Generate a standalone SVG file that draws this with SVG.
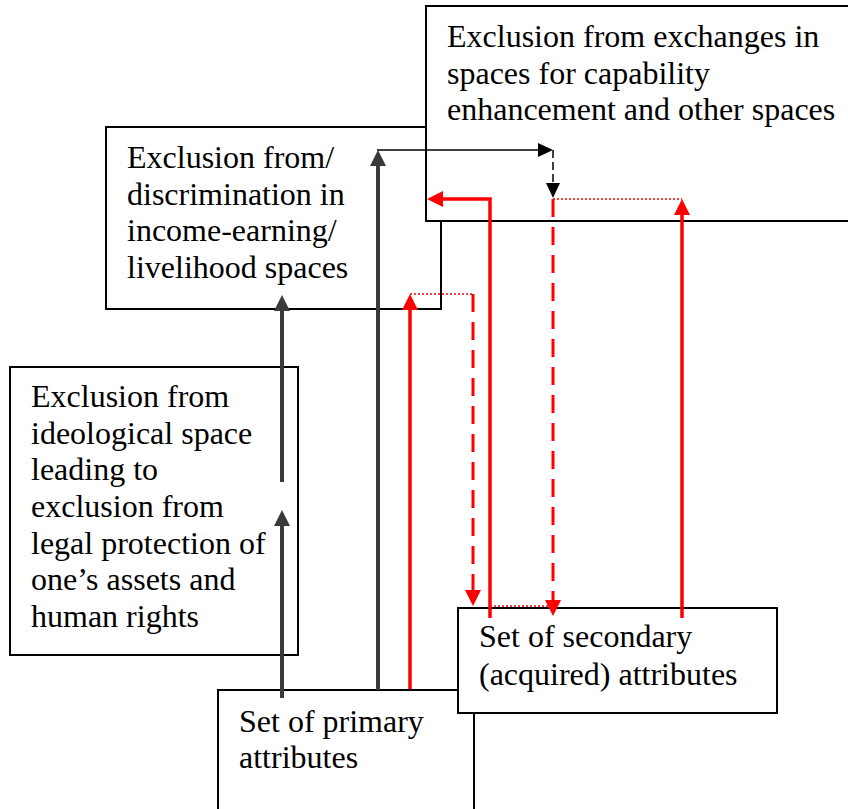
<svg xmlns="http://www.w3.org/2000/svg" width="848" height="809" viewBox="0 0 848 809">
<style>
.box{fill:#fff;stroke:#000;stroke-width:2}
.t{font-family:"Liberation Serif","Times New Roman",serif;font-size:32px;fill:#000}
.grey{fill:none;stroke:#3a3a3a;stroke-width:4}
.blk{fill:none;stroke:#000;stroke-width:1.5}
.blkd{fill:none;stroke:#000;stroke-width:1.5;stroke-dasharray:8,4}
.red{fill:none;stroke:#ff0000;stroke-width:3.5}
.redd{fill:none;stroke:#ff0000;stroke-width:3;stroke-dasharray:18,10}
.redo{fill:none;stroke:#ff0000;stroke-width:1.5;stroke-dasharray:2,2}
</style>
<defs>
<marker id="hg" markerUnits="userSpaceOnUse" markerWidth="16" markerHeight="16" refX="0" refY="8" orient="auto"><path d="M0,0L16,8L0,16z" fill="#3a3a3a"/></marker>
<marker id="hr" markerUnits="userSpaceOnUse" markerWidth="16" markerHeight="16" refX="0" refY="8" orient="auto"><path d="M0,0L16,8L0,16z" fill="#ff0000"/></marker>
<marker id="hb" markerUnits="userSpaceOnUse" markerWidth="15" markerHeight="14" refX="0" refY="7" orient="auto"><path d="M0,0L15,7L0,14z" fill="#000"/></marker>
</defs>
<g id="income">
<rect class="box" x="106" y="127" width="335" height="182"/>
<text class="t" x="127" y="168">Exclusion from/</text>
<text class="t" x="127" y="205">discrimination in</text>
<text class="t" x="127" y="241">income-earning/</text>
<text class="t" x="127" y="278">livelihood spaces</text>
</g>
<g id="exchanges">
<rect class="box" x="426" y="6" width="440" height="215"/>
<text class="t" x="447" y="47">Exclusion from exchanges in</text>
<text class="t" x="447" y="84">spaces for capability</text>
<text class="t" x="447" y="120">enhancement and other spaces</text>
</g>
<g id="ideological">
<rect class="box" x="10" y="367" width="288" height="288"/>
<text class="t" x="31" y="407">Exclusion from</text>
<text class="t" x="31" y="444">ideological space</text>
<text class="t" x="31" y="480">leading to</text>
<text class="t" x="31" y="517">exclusion from</text>
<text class="t" x="31" y="554">legal protection of</text>
<text class="t" x="31" y="590">one’s assets and</text>
<text class="t" x="31" y="627">human rights</text>
</g>
<g id="primary">
<rect class="box" x="218" y="690" width="256" height="140"/>
<text class="t" x="239" y="732">Set of primary</text>
<text class="t" x="239" y="768">attributes</text>
</g>
<g id="secondary">
<rect class="box" x="458" y="608" width="319" height="105"/>
<text class="t" x="479" y="647">Set of secondary</text>
<text class="t" x="479" y="685">(acquired) attributes</text>
</g>
<g id="connectors">
<line class="grey" x1="282" y1="698" x2="282" y2="526" marker-end="url(#hg)"/>
<line class="grey" x1="282" y1="482" x2="282" y2="311" marker-end="url(#hg)"/>
<line class="grey" x1="378" y1="690" x2="378" y2="166" marker-end="url(#hg)"/>
<line class="blk" x1="377" y1="150" x2="538" y2="150" marker-end="url(#hb)"/>
<line class="blkd" x1="553" y1="150" x2="553" y2="183" marker-end="url(#hb)"/>
<line class="red" x1="410" y1="689" x2="410" y2="310" marker-end="url(#hr)"/>
<line class="redo" x1="410" y1="294" x2="473" y2="294"/>
<line class="redd" x1="473" y1="294" x2="473" y2="590" marker-end="url(#hr)"/>
<polyline class="red" points="490,618 490,199 443,199" marker-end="url(#hr)"/>
<line class="redo" x1="490" y1="606" x2="553" y2="606"/>
<line class="redd" x1="553" y1="199" x2="553" y2="600" marker-end="url(#hr)"/>
<line class="redo" x1="553" y1="199" x2="682" y2="199"/>
<line class="red" x1="682" y1="618" x2="682" y2="215" marker-end="url(#hr)"/>
</g>
</svg>
